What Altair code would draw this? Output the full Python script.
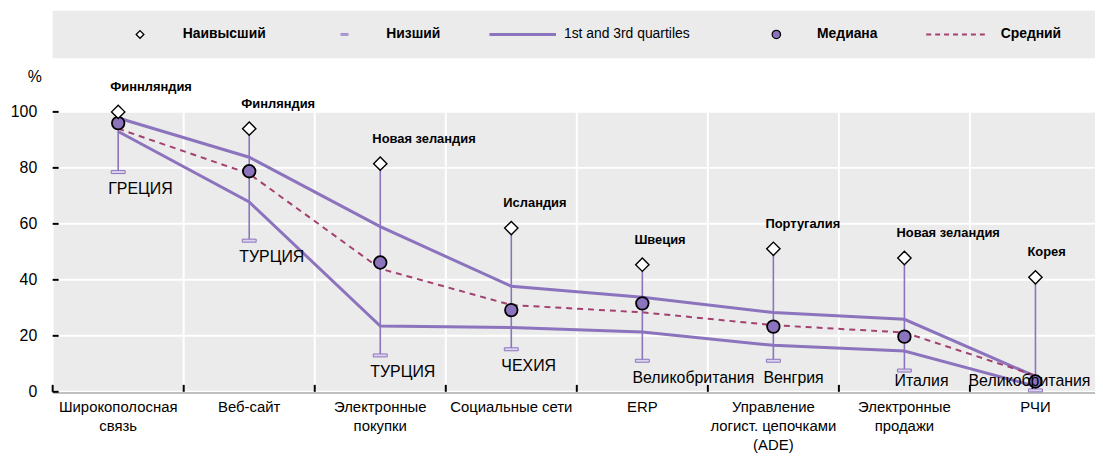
import altair as alt
import pandas as pd

# ---------------- data ----------------
categories = [
    "Широкополосная\nсвязь",
    "Веб-сайт",
    "Электронные\nпокупки",
    "Социальные сети",
    "ERP",
    "Управление\nлогист. цепочками\n(ADE)",
    "Электронные\nпродажи",
    "РЧИ",
]
highest = [100, 94, 81.5, 58.5, 45.4, 51.1, 47.8, 40.9]
highest_country = ["Финнляндия", "Финляндия", "Новая зеландия", "Исландия",
                   "Швеция", "Португалия", "Новая зеландия", "Корея"]
lowest = [78.5, 54, 13, 15.2, 11.1, 11.1, 7.6, 0.5]
lowest_country = ["ГРЕЦИЯ", "ТУРЦИЯ", "ТУРЦИЯ", "ЧЕХИЯ",
                  "Великобритания", "Венгрия", "Италия", "Великобритания"]
q3 = [97.8, 83.8, 59, 37.7, 33.8, 28.3, 25.9, 5.5]
q1 = [93, 67.8, 23.5, 23, 21.4, 16.6, 14.6, 2.0]
median = [96, 78.8, 46.2, 29.2, 31.6, 23.3, 19.7, 3.7]
mean = [94, 77.9, 44, 31, 28.4, 23.8, 21.2, 5.8]
y_ticks = [0, 20, 40, 60, 80, 100]

legend_labels = ["Наивысший", "Низший", "1st and 3rd quartiles", "Медиана", "Средний"]

df = pd.DataFrame({
    "cat": categories,
    "high": highest,
    "high_c": highest_country,
    "low": lowest,
    "low_c": lowest_country,
    "q3": q3,
    "q1": q1,
    "median": median,
    "mean": mean,
})

# ---------------- style ----------------
FONT = "Liberation Sans"
PURPLE = "#8C73BD"
MEAN_C = "#A3406F"
BG = "#EBEBEB"
W, H = 1050, 282

xscale = alt.Scale(type="band", range=[0, 1056], paddingInner=0, paddingOuter=0)
yscale = alt.Scale(domain=[0, 100], nice=False, zero=True)

x_axis = alt.Axis(
    labelAngle=0, labelFontSize=15, labelLineHeight=19, labelPadding=8,
    labelExpr="split(datum.label, '\\n')", labelColor="#000", labelFont=FONT,
    ticks=False, domain=True, domainColor="#000", domainWidth=2, grid=False,
)
y_axis = alt.Axis(
    values=y_ticks, labelFontSize=16, labelPadding=16, labelColor="#000", labelFont=FONT,
    ticks=False, domain=True, domainColor="#000", domainWidth=2, grid=False,
)


def X(**kw):
    return alt.X("cat:N", sort=categories, scale=xscale, title=None, **kw)


def Y(field, **kw):
    return alt.Y(field, type="quantitative", scale=yscale, title=None, **kw)


base = alt.Chart(df)
one = pd.DataFrame({"k": [0]})

# plot background + manual gridlines (white)
plot_bg = alt.Chart(one).mark_rect(color=BG).encode(
    x=alt.value(0), x2=alt.value(W), y=alt.value(0), y2=alt.value(H))
grid_v = base.mark_rule(color="white", strokeWidth=2).encode(
    x=X(bandPosition=0, axis=x_axis), y=alt.value(0), y2=alt.value(H))
grid_h = alt.Chart(pd.DataFrame({"v": y_ticks})).mark_rule(color="white", strokeWidth=2).encode(
    x=alt.value(0), x2=alt.value(W), y=Y("v:Q", axis=y_axis))

whisker = base.mark_rule(color=PURPLE, strokeWidth=1.6).encode(
    x=X(), y=Y("low"), y2="high")

q3_line = base.mark_line(color=PURPLE, strokeWidth=3).encode(x=X(), y=Y("q3"))
q1_line = base.mark_line(color=PURPLE, strokeWidth=3).encode(x=X(), y=Y("q1"))
mean_line = base.mark_line(color=MEAN_C, strokeWidth=2, strokeDash=[6, 5]).encode(
    x=X(), y=Y("mean"))

low_cap = base.mark_tick(size=14, thickness=3, fill="#DCD3EE", stroke=PURPLE,
                         strokeWidth=1, filled=True, opacity=1).encode(x=X(), y=Y("low"))

med_pt = base.mark_point(shape="circle", size=160, filled=True, fill=PURPLE,
                         stroke="black", strokeWidth=1.8, opacity=1).encode(
    x=X(), y=Y("median"))

high_pt = base.mark_point(shape="diamond", size=180, filled=True, fill="white",
                          stroke="black", strokeWidth=1.4, opacity=1).encode(
    x=X(), y=Y("high"))

high_txt = base.mark_text(align="left", baseline="middle", dx=-8, dy=-25,
                          font=FONT, fontSize=13, fontWeight="bold", color="#000").encode(
    x=X(), y=Y("high"), text="high_c:N")

low_src = base.transform_calculate(ly="max(datum.low, 9.8)")
low_txt = low_src.transform_filter(alt.datum.cat != "РЧИ").mark_text(
    align="left", baseline="middle", dx=-10, dy=17, font=FONT, fontSize=16, color="#000"
).encode(x=X(), y=Y("ly:Q"), text="low_c:N")
low_txt_last = low_src.transform_filter(alt.datum.cat == "РЧИ").mark_text(
    align="center", baseline="middle", dx=-6, dy=17, font=FONT, fontSize=16, color="#000"
).encode(x=X(), y=Y("ly:Q"), text="low_c:N")

# inward axis ticks
x_ticks = base.mark_rule(color="black", strokeWidth=2).encode(
    x=X(bandPosition=0),
    y=alt.value(H), y2=alt.value(H - 7))
yt = alt.Chart(pd.DataFrame({"v": y_ticks})).mark_rule(color="black", strokeWidth=2).encode(
    x=alt.value(0), x2=alt.value(6), y=Y("v:Q"))

pct = alt.Chart(pd.DataFrame({"t": ["%"]})).mark_text(
    font=FONT, fontSize=16, color="#000", align="center", baseline="middle").encode(
    x=alt.value(-18), y=alt.value(-35), text="t:N")

# ---------------- manual legend ----------------
LY = -78
leg_bg = alt.Chart(one).mark_rect(color=BG).encode(
    x=alt.value(0), x2=alt.value(1050), y=alt.value(-102), y2=alt.value(-54))
leg_diamond = alt.Chart(one).mark_point(shape="diamond", size=60, filled=True, fill="white",
                                        stroke="black", strokeWidth=1.3, opacity=1).encode(
    x=alt.value(88), y=alt.value(LY))
leg_low = alt.Chart(one).mark_rule(color="#A896D0", strokeWidth=3).encode(
    x=alt.value(290), x2=alt.value(298), y=alt.value(LY))
leg_q = alt.Chart(one).mark_rule(color=PURPLE, strokeWidth=3).encode(
    x=alt.value(440), x2=alt.value(507), y=alt.value(LY))
leg_med = alt.Chart(one).mark_point(shape="circle", size=70, filled=True, fill=PURPLE,
                                    stroke="black", strokeWidth=1.3, opacity=1).encode(
    x=alt.value(729), y=alt.value(LY))
leg_mean = alt.Chart(one).mark_rule(color=MEAN_C, strokeWidth=2, strokeDash=[5, 4]).encode(
    x=alt.value(880), x2=alt.value(941), y=alt.value(LY))

leg_x = [131, 336, 515, 770, 955]
leg_w = ["bold", "bold", "normal", "bold", "bold"]
leg_texts = []
for lab, lx, fw in zip(legend_labels, leg_x, leg_w):
    leg_texts.append(
        alt.Chart(pd.DataFrame({"t": [lab]})).mark_text(
            align="left", baseline="middle", font=FONT, fontSize=14, fontWeight=fw,
            color="#000").encode(x=alt.value(lx), y=alt.value(LY), text="t:N"))

chart = alt.layer(
    plot_bg, grid_v, grid_h,
    leg_bg, leg_diamond, leg_low, leg_q, leg_med, leg_mean, *leg_texts, pct,
    whisker, q3_line, q1_line, mean_line, low_cap,
    med_pt, high_pt, high_txt, low_txt, low_txt_last, x_ticks, yt,
).properties(
    width=W, height=H,
    autosize=alt.AutoSizeParams(type="none"),
    padding={"left": 45, "top": 103, "right": 0, "bottom": 62},
).configure_view(stroke=None).configure(font=FONT)

chart.save("out.html", embed_options={"renderer": "svg", "actions": False})
